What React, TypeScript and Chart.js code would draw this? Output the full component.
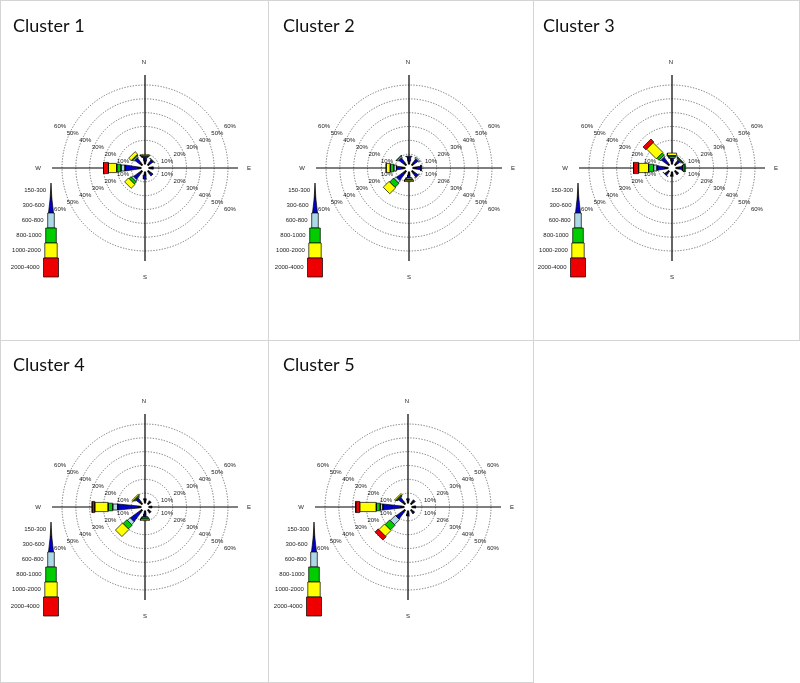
import React, { useEffect, useRef } from 'react';
import { Chart, registerables } from 'chart.js';

Chart.register(...registerables);

// ---------- data ----------
const directions = ['N', 'NE', 'E', 'SE', 'S', 'SW', 'W', 'NW'];
const directionDegrees = [0, 45, 90, 135, 180, 225, 270, 315];
const speedClasses = ['150-300', '300-600', '600-800', '800-1000', '1000-2000', '2000-4000'];
const ringValues = [10, 20, 30, 40, 50, 60];
const ringLabels = ['10%', '20%', '30%', '40%', '50%', '60%'];
const compassLabels = ['N', 'E', 'S', 'W'];
const clusterNames = ['Cluster 1', 'Cluster 2', 'Cluster 3', 'Cluster 4', 'Cluster 5'];

// frequency (%) per direction [N, NE, E, SE, S, SW, W, NW], per speed class
const cluster1Petals = [
  [5, 2.5, 0.8, 0.4, 0.8, 0],
  [5, 2.3, 0.5, 0, 0, 0],
  [5, 1, 0, 0, 0, 0],
  [5, 2.2, 0, 0, 0, 0],
  [5, 3, 0, 0, 0, 0],
  [5, 5, 1.5, 2, 4, 0],
  [5, 9.4, 2.9, 3.1, 6, 3.6],
  [5, 4, 1, 0.8, 2.6, 0],
];
const cluster2Petals = [
  [5, 3, 0.5, 0, 0, 0],
  [5, 3, 1, 0, 0, 0],
  [5, 3.5, 0.5, 0, 0, 0],
  [5, 3, 0.5, 0, 0, 0],
  [5, 2, 1, 0.7, 1, 0],
  [5, 6, 2, 4, 6, 0],
  [5, 4, 2, 2.5, 3, 0],
  [5, 4, 1, 0.5, 0, 0],
];
const cluster3Petals = [
  [5, 2, 1, 1, 1.8, 0],
  [5, 2, 0.7, 0.5, 0.5, 0],
  [5, 2.5, 1, 1.1, 0, 0],
  [5, 1, 0, 0, 0, 0],
  [5, 1, 0, 0, 0, 0],
  [5, 1.5, 0.3, 0, 0, 0],
  [5, 5.8, 2.5, 3.6, 7.2, 3.7],
  [5, 4.4, 1.2, 2, 10, 3],
];
const cluster4Petals = [
  [5, 1, 0, 0, 0, 0],
  [5, 0.5, 0, 0, 0, 0],
  [5, 0, 0, 0, 0, 0],
  [5, 0.5, 0, 0, 0, 0],
  [5, 2, 0.8, 0.8, 1, 0],
  [5, 8, 2.8, 3.8, 7.3, 0],
  [5, 14.7, 3.6, 3.3, 9.7, 1.9],
  [5, 3, 0.5, 0.5, 1, 0],
];
const cluster5Petals = [
  [5, 1, 0, 0, 0, 0],
  [5, 1.5, 0, 0, 0, 0],
  [5, 0.5, 0, 0, 0, 0],
  [5, 1, 0, 0, 0, 0],
  [5, 1.5, 0, 0, 0, 0],
  [5, 5.7, 5.2, 4.7, 5.8, 3.2],
  [5, 13.1, 1.9, 2.9, 12, 2.9],
  [5, 3.5, 0.5, 0.5, 1, 0],
];
const clusterPetals = [cluster1Petals, cluster2Petals, cluster3Petals, cluster4Petals, cluster5Petals];

// ---------- styles / layout ----------
const classColors = ['#000000', '#0000CD', '#ADD8E6', '#00CC00', '#FFFF00', '#EE0000'];
const PX_PER_PCT = 1.383;
const HOLE_PX = 3.5;
const AXIS_EXT_PX = 93;
const petalHalfWidths = [0, 0, 3, 3.8, 4.6, 5.6];
const legendBounds = [15, 30, 45, 60, 75, 90, 109];
const legendHalf = [[0, 0.8], [0.8, 2.5], [3.3, 3.3], [5.3, 5.3], [6.2, 6.2], [7.5, 7.5]];

const panels = [
  { left: 0, top: 0, w: 268, h: 340, cx: 145, cy: 168, tx: 13, ty: 32 },
  { left: 268, top: 0, w: 265, h: 340, cx: 141, cy: 168, tx: 15, ty: 32 },
  { left: 533, top: 0, w: 267, h: 340, cx: 139, cy: 168, tx: 10, ty: 32 },
  { left: 0, top: 340, w: 268, h: 343, cx: 145, cy: 167, tx: 13, ty: 31 },
  { left: 268, top: 340, w: 265, h: 343, cx: 140, cy: 167, tx: 15, ty: 31 },
];

function halfWidthPx(ci: number, rPx: number) {
  if (ci <= 1) return Math.min(0.15 * rPx, 3);
  return petalHalfWidths[ci];
}

const rosePlugin = {
  id: 'rose',
  beforeDatasetsDraw(chart: any) {
    const { ctx } = chart;
    const xs = chart.scales.x;
    const ys = chart.scales.y;
    const cx = xs.getPixelForValue(0);
    const cy = ys.getPixelForValue(0);
    ctx.save();
    ctx.strokeStyle = '#555';
    ctx.lineWidth = 0.8;
    ctx.setLineDash([1.3, 1.5]);
    ringValues.forEach((v) => {
      const r = xs.getPixelForValue(v) - cx;
      ctx.beginPath();
      ctx.arc(cx, cy, r, 0, Math.PI * 2);
      ctx.stroke();
    });
    ctx.setLineDash([]);
    ctx.strokeStyle = '#000';
    ctx.lineWidth = 1.2;
    ctx.beginPath();
    ctx.moveTo(cx, cy - AXIS_EXT_PX);
    ctx.lineTo(cx, cy + AXIS_EXT_PX);
    ctx.moveTo(cx - AXIS_EXT_PX, cy);
    ctx.lineTo(cx + AXIS_EXT_PX, cy);
    ctx.stroke();
    ctx.restore();
  },
  afterDatasetsDraw(chart: any, _args: any, opts: any) {
    const { ctx } = chart;
    const xs = chart.scales.x;
    const ys = chart.scales.y;
    const cx = xs.getPixelForValue(0);
    const cy = ys.getPixelForValue(0);
    ctx.save();
    // hole
    ctx.fillStyle = '#fff';
    ctx.beginPath();
    ctx.arc(cx, cy, HOLE_PX, 0, Math.PI * 2);
    ctx.fill();

    // ring labels
    ctx.fillStyle = '#222';
    ctx.font = '6px "Liberation Sans", Arial, sans-serif';
    ctx.textAlign = 'center';
    ctx.textBaseline = 'middle';
    ringValues.forEach((v, i) => {
      const R = xs.getPixelForValue(v) - cx;
      const dx = 0.91 * R + 9.4;
      const dy = 0.506 * R - 0.5;
      [[-1, -1], [1, -1], [-1, 1], [1, 1]].forEach(([sx, sy]) => {
        ctx.fillText(ringLabels[i], cx + sx * dx, cy + sy * dy);
      });
    });
    // compass labels
    ctx.font = '6px "Liberation Sans", Arial, sans-serif';
    ctx.fillText(compassLabels[0], cx - 1, cy - 106);
    ctx.fillText(compassLabels[1], cx + 104, cy);
    ctx.fillText(compassLabels[2], cx, cy + 109);
    ctx.fillText(compassLabels[3], cx - 107, cy);

    // legend
    const lx = cx - 94;
    speedClasses.forEach((label, i) => {
      const y0 = cy + legendBounds[i];
      const y1 = cy + legendBounds[i + 1];
      const [h0, h1] = legendHalf[i];
      ctx.beginPath();
      ctx.moveTo(lx - h0, y0);
      ctx.lineTo(lx + h0, y0);
      ctx.lineTo(lx + h1, y1);
      ctx.lineTo(lx - h1, y1);
      ctx.closePath();
      ctx.fillStyle = classColors[i];
      ctx.fill();
      ctx.strokeStyle = '#000';
      ctx.lineWidth = 0.7;
      ctx.stroke();
      ctx.fillStyle = '#222';
      ctx.textAlign = 'right';
      ctx.font = '6px "Liberation Sans", Arial, sans-serif';
      ctx.fillText(label, lx - Math.max(h0, h1) - 4, (y0 + y1) / 2);
    });

    // title
    ctx.fillStyle = '#111';
    ctx.textAlign = 'left';
    ctx.textBaseline = 'alphabetic';
    ctx.font = '18px Lato, "Open Sans", sans-serif';
    ctx.fillText(opts.title, opts.tx, opts.ty);
    ctx.restore();
  },
};

function buildDatasets(petals: number[][]) {
  const holePct = HOLE_PX / PX_PER_PCT;
  const datasets: any[] = [];
  petals.forEach((vals, di) => {
    const th = (directionDegrees[di] * Math.PI) / 180;
    const ux = Math.sin(th);
    const uy = Math.cos(th);
    const pxv = Math.cos(th);
    const pyv = -Math.sin(th);
    let cum = 0;
    vals.forEach((v, ci) => {
      const start = cum;
      cum += v;
      if (v <= 0 || cum <= holePct) return;
      const r0 = Math.max(start, holePct);
      const r1 = cum;
      const h0 = halfWidthPx(ci, r0 * PX_PER_PCT) / PX_PER_PCT;
      const h1 = halfWidthPx(ci, r1 * PX_PER_PCT) / PX_PER_PCT;
      const pts = [
        { x: r0 * ux + h0 * pxv, y: r0 * uy + h0 * pyv },
        { x: r1 * ux + h1 * pxv, y: r1 * uy + h1 * pyv },
        { x: r1 * ux - h1 * pxv, y: r1 * uy - h1 * pyv },
        { x: r0 * ux - h0 * pxv, y: r0 * uy - h0 * pyv },
      ];
      pts.push({ ...pts[0] });
      datasets.push({
        label: directions[di] + ' ' + speedClasses[ci],
        data: pts,
        showLine: true,
        fill: 'shape',
        backgroundColor: classColors[ci],
        borderColor: '#000',
        borderWidth: 0.7,
        pointRadius: 0,
        tension: 0,
      });
    });
  });
  return datasets;
}

function RosePanel({ idx }: { idx: number }) {
  const ref = useRef<HTMLCanvasElement>(null);
  const p = panels[idx];
  useEffect(() => {
    if (!ref.current) return;
    const k = PX_PER_PCT;
    const chart = new Chart(ref.current, {
      type: 'scatter',
      data: { datasets: buildDatasets(clusterPetals[idx]) },
      options: {
        animation: false,
        responsive: false,
        events: [],
        layout: { padding: 0 },
        plugins: {
          legend: { display: false },
          tooltip: { enabled: false },
          rose: { title: clusterNames[idx], tx: p.tx, ty: p.ty },
        } as any,
        scales: {
          x: { type: 'linear', display: false, min: -p.cx / k, max: (p.w - p.cx) / k },
          y: { type: 'linear', display: false, min: -(p.h - p.cy) / k, max: p.cy / k },
        },
      },
      plugins: [rosePlugin],
    });
    return () => chart.destroy();
  }, [idx]);
  return (
    <canvas
      ref={ref}
      width={p.w}
      height={p.h}
      style={{ position: 'absolute', left: p.left, top: p.top, width: p.w, height: p.h }}
    />
  );
}

const gridLines = [
  { left: 0, top: 0, width: 800, height: 1 },
  { left: 0, top: 340, width: 800, height: 1 },
  { left: 0, top: 682, width: 534, height: 1 },
  { left: 0, top: 0, width: 1, height: 683 },
  { left: 268, top: 0, width: 1, height: 683 },
  { left: 533, top: 0, width: 1, height: 683 },
  { left: 799, top: 0, width: 1, height: 341 },
];

export default function App() {
  useEffect(() => {
    document.body.style.margin = '0';
  }, []);
  return (
    <div style={{ position: 'relative', width: 800, height: 683, background: '#fff', overflow: 'hidden' }}>
      {panels.map((_, i) => (
        <RosePanel key={i} idx={i} />
      ))}
      {gridLines.map((g, i) => (
        <div key={'g' + i} style={{ position: 'absolute', background: '#d4d4d4', ...g }} />
      ))}
    </div>
  );
}
